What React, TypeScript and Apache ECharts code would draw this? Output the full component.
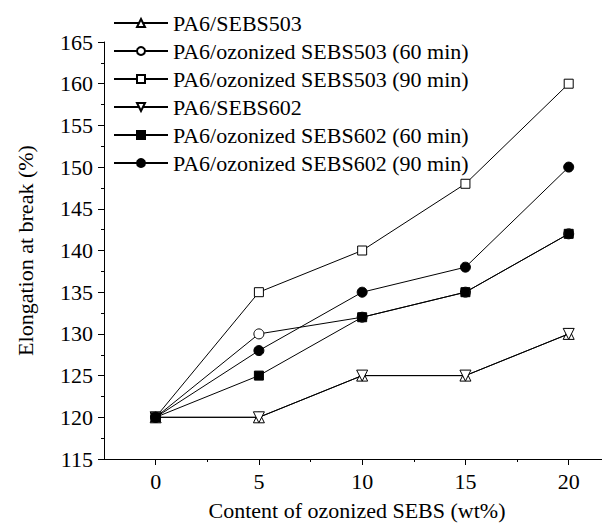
import React, { useEffect, useRef } from "react";
import * as echarts from "echarts";

const xValues = [0, 5, 10, 15, 20];
const seriesNames = [
  "PA6/SEBS503",
  "PA6/ozonized SEBS503 (60 min)",
  "PA6/ozonized SEBS503 (90 min)",
  "PA6/SEBS602",
  "PA6/ozonized SEBS602 (60 min)",
  "PA6/ozonized SEBS602 (90 min)",
];
const sebs503 = [120, 120, 125, 125, 130];
const ozo503_60 = [120, 130, 132, 135, 142];
const ozo503_90 = [120, 135, 140, 148, 160];
const sebs602 = [120, 120, 125, 125, 130];
const ozo602_60 = [120, 125, 132, 135, 142];
const ozo602_90 = [120, 128, 135, 138, 150];
const xMajorTicks = [0, 5, 10, 15, 20];
const xMinorTicks = [2.5, 7.5, 12.5, 17.5];

const FONT = "'Liberation Serif', 'Times New Roman', serif";
const FS = 22;

export default function App() {
  const ref = useRef<HTMLDivElement>(null);
  useEffect(() => {
    if (!ref.current) return;
    const chart = echarts.init(ref.current, null, { renderer: "svg" });
    const pair = (ys: number[]) => xValues.map((x, i) => [x, ys[i]]);
    const styles = [
      { data: sebs503, symbol: "triangle", size: 11, rotate: 0, fill: "#fff" },
      { data: ozo503_60, symbol: "circle", size: 10, rotate: 0, fill: "#fff" },
      { data: ozo503_90, symbol: "rect", size: 9, rotate: 0, fill: "#fff" },
      { data: sebs602, symbol: "triangle", size: 11, rotate: 180, fill: "#fff" },
      { data: ozo602_60, symbol: "rect", size: 9, rotate: 0, fill: "#000" },
      { data: ozo602_90, symbol: "circle", size: 10, rotate: 0, fill: "#000" },
    ];
    const series = styles.map((s, i) => ({
      name: seriesNames[i],
      type: "line",
      data: pair(s.data),
      symbol: s.symbol,
      symbolSize: s.size,
      symbolRotate: s.rotate,
      showAllSymbol: true,
      lineStyle: { color: "#000", width: 1 },
      itemStyle: { color: s.fill, borderColor: "#000", borderWidth: 1 },
      emphasis: { disabled: true },
      z: 2 + i,
    }));
    chart.setOption({
      animation: false,
      backgroundColor: "#fff",
      grid: { left: 104, right: 0, top: 42, bottom: 73, containLabel: false },
      legend: {
        orient: "vertical",
        left: 113,
        top: 12,
        padding: 0,
        itemWidth: 54,
        itemHeight: 10,
        itemGap: 6,
        data: seriesNames,
        textStyle: { fontFamily: FONT, fontSize: FS, color: "#000", padding: [0, 0, 0, 0] },
      },
      xAxis: [
        {
          type: "value",
          min: -2.5,
          max: 22,
          interval: 2.5,
          name: "Content of ozonized SEBS (wt%)",
          nameLocation: "middle",
          nameGap: 40,
          nameTextStyle: { fontFamily: FONT, fontSize: FS, color: "#000" },
          axisLine: { show: true, onZero: false, lineStyle: { color: "#000", width: 1 } },
          axisTick: { show: true, inside: false, length: 6, customValues: xMajorTicks, lineStyle: { color: "#000" } },
          axisLabel: { margin: 11, customValues: xMajorTicks, fontFamily: FONT, fontSize: FS, color: "#000" },
          splitLine: { show: false },
        },
        {
          type: "value",
          min: -2.5,
          max: 22,
          interval: 2.5,
          position: "bottom",
          axisLine: { show: false },
          axisTick: { show: true, inside: false, length: 3, customValues: xMinorTicks, lineStyle: { color: "#000" } },
          axisLabel: { show: false },
          splitLine: { show: false },
        },
      ],
      yAxis: {
        type: "value",
        min: 115,
        max: 165,
        interval: 5,
        name: "Elongation at break (%)",
        nameLocation: "middle",
        nameGap: 68,
        nameTextStyle: { fontFamily: FONT, fontSize: FS, color: "#000" },
        axisLine: { show: true, onZero: false, lineStyle: { color: "#000", width: 1 } },
        axisTick: { show: true, inside: false, length: 6, lineStyle: { color: "#000" } },
        minorTick: { show: true, splitNumber: 2, length: 3, lineStyle: { color: "#000" } },
        axisLabel: { margin: 11, fontFamily: FONT, fontSize: FS, color: "#000" },
        splitLine: { show: false },
        minorSplitLine: { show: false },
      },
      series,
    });
    return () => chart.dispose();
  }, []);
  return <div ref={ref} style={{ width: 610, height: 532, margin: -8 }} />;
}
